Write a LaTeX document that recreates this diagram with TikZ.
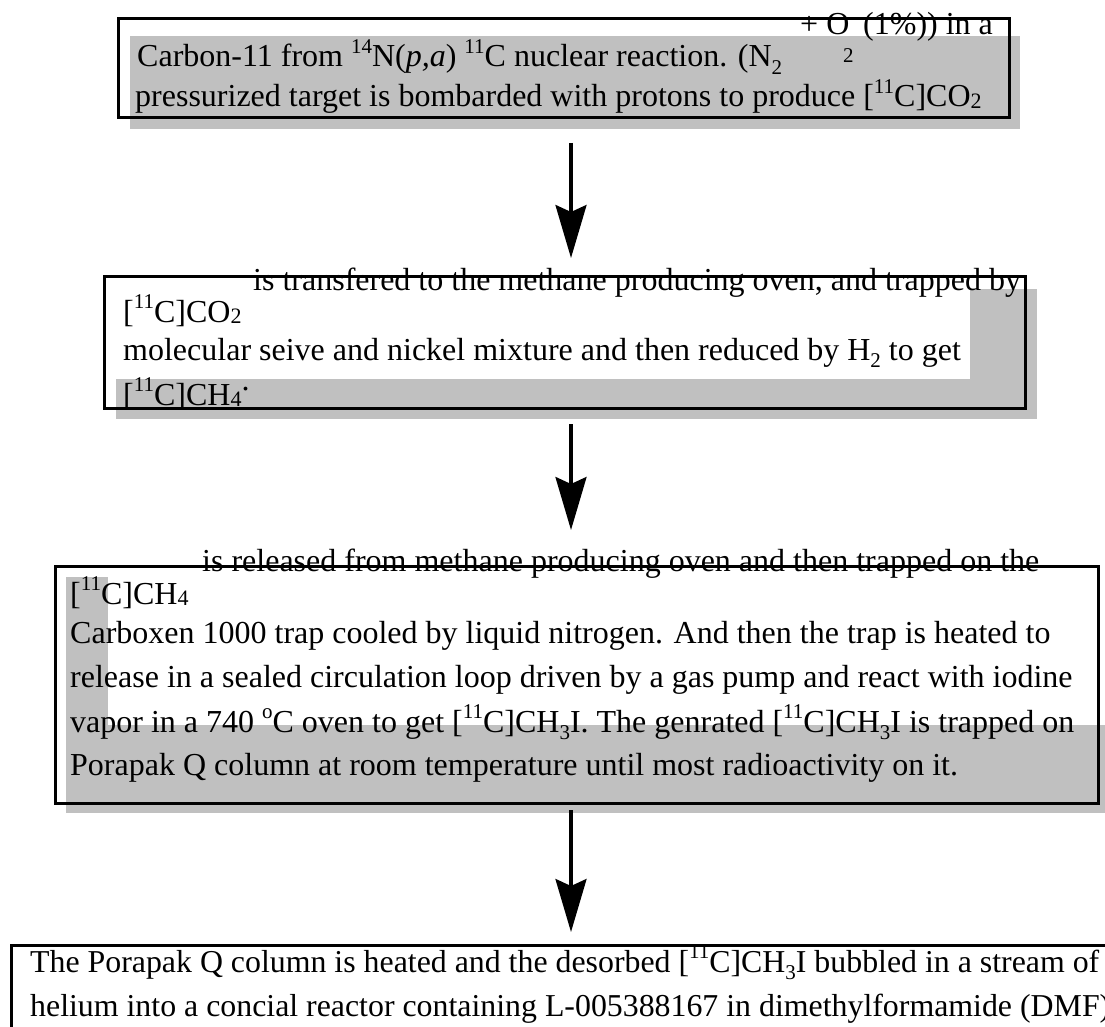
\documentclass[tikz,border=0pt]{standalone}
\usepackage{fontspec}
\setmainfont{Liberation Serif}
\usetikzlibrary{arrows.meta}
\definecolor{shade}{RGB}{192,192,192}
\newcommand\upx[1]{\raisebox{0.42em}{\fontsize{21}{21}\selectfont #1}}
\newcommand\dnx[1]{\raisebox{-0.22em}{\fontsize{21}{21}\selectfont #1}}
\newcommand\dns[1]{\raisebox{-0.06em}{\fontsize{22}{22}\selectfont #1}}
\tikzset{
  txt/.style={anchor=base west, inner sep=0pt, font=\fontsize{32}{38}\selectfont},
  frame/.style={draw=black, line width=3pt, inner sep=0pt},
  shadowfill/.style={fill=shade},
  whitefill/.style={fill=white},
  conn/.style={line width=3.2pt, -{Stealth[length=53pt,width=31pt,inset=7pt]}}
}
\begin{document}
\begin{tikzpicture}[x=1pt,y=-1pt]
\clip (0,0) rectangle (1105,1027);
\fill[white] (0,0) rectangle (1105,1027);

% ---------- box 1 ----------
\fill[shadowfill] (130,36) rectangle (1020,129);
\node[frame, minimum width=891pt, minimum height=99pt] (b1) at (563.5,68.5) {};
\node[txt] (t1a) at (137,67) {Carbon-11 from \upx{14}N(\textit{p,a}) \upx{11}C nuclear reaction. (N\dnx{2}};
\node[txt] (t1b) at (800,35) {+ O};
\node[txt, font=\fontsize{21}{21}\selectfont] (t1c) at (843,63) {2};
\node[txt] (t1d) at (863,35) {(1\%)) in a};
\node[txt] (t1e) at (135,107) {pressurized target is bombarded with protons to produce [\upx{11}C]CO\dns{2}};

% ---------- box 2 ----------
\fill[shadowfill] (116,289) rectangle (1037,419);
\fill[whitefill] (104,276) rectangle (970,379);
\node[frame, minimum width=921pt, minimum height=132pt] (b2) at (564.5,342) {};
\node[txt] (t2a) at (253,290) {is transfered to the methane producing oven, and trapped by};
\node[txt] (t2b) at (123,322) {[\upx{11}C]CO\dns{2}};
\node[txt] (t2c) at (123,360) {molecular seive and nickel mixture and then reduced by H\dnx{2} to get};
\node[txt] (t2d) at (123,405) {[\upx{11}C]CH\dns{4}\raisebox{0.45em}{.}};

% ---------- box 3 ----------
\fill[shadowfill] (66,577) rectangle (1110,813);
\fill[whitefill] (108,560) rectangle (1110,725);
\node[frame, minimum width=1043pt, minimum height=237pt] (b3) at (576.5,684.5) {};
\node[txt] (t3a) at (202,571) {is released from methane producing oven and then trapped on the};
\node[txt] (t3b) at (70,604) {[\upx{11}C]CH\dns{4}};
\node[txt] (t3c) at (70,643) {Carboxen 1000 trap cooled by liquid nitrogen. And then the trap is heated to};
\node[txt] (t3d) at (70,687) {release in a sealed circulation loop driven by a gas pump and react with iodine};
\node[txt] (t3e) at (70,732) {vapor in a 740 \upx{o}C oven to get [\upx{11}C]CH\dnx{3}I. The genrated [\upx{11}C]CH\dnx{3}I is trapped on};
\node[txt] (t3f) at (70,775) {Porapak Q column at room temperature until most radioactivity on it.};

% ---------- box 4 ----------
\node[frame, minimum width=1130pt, minimum height=120pt] (b4) at (576,1005) {};
\node[txt, font=\fontsize{31.85}{38}\selectfont] (t4a) at (30,972) {The Porapak Q column is heated and the desorbed [\upx{11}C]CH\dnx{3}I bubbled in a stream of};
\node[txt, font=\fontsize{31.85}{38}\selectfont] (t4b) at (30,1016) {helium into a concial reactor containing L-005388167 in dimethylformamide (DMF)};

% ---------- connectors ----------
\coordinate (a1s) at (571,143);
\coordinate (a1e) at (571,258);
\coordinate (a2s) at (571,424);
\coordinate (a2e) at (571,530);
\coordinate (a3s) at (571,810);
\coordinate (a3e) at (571,932);
\draw[conn] (a1s) -- (a1e);
\draw[conn] (a2s) -- (a2e);
\draw[conn] (a3s) -- (a3e);
\end{tikzpicture}
\end{document}
